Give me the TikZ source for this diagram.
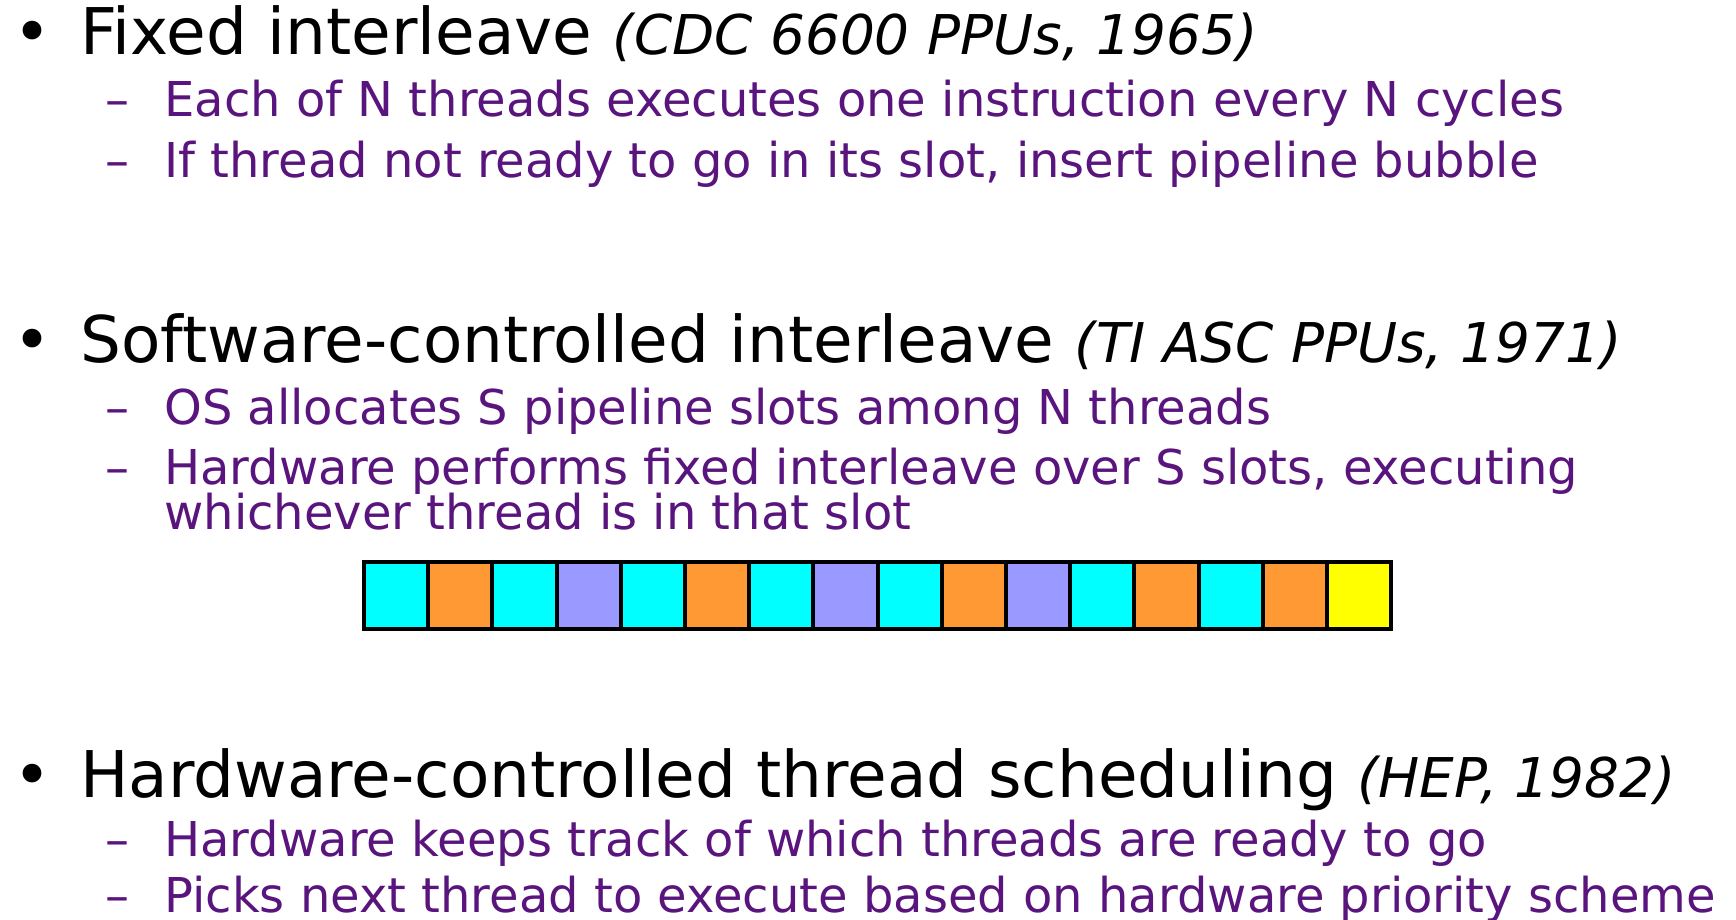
\documentclass[tikz,border=0pt]{standalone}
\usepackage{fontspec}
\setmainfont{DejaVu Sans}
\usetikzlibrary{positioning}
\definecolor{subpurple}{RGB}{90,20,125}
\definecolor{slotcyan}{RGB}{0,255,255}
\definecolor{slotorange}{RGB}{255,153,51}
\definecolor{slotblue}{RGB}{153,153,255}
\definecolor{slotyellow}{RGB}{255,255,0}

\begin{document}
\begin{tikzpicture}[x=0.5pt, y=-0.5pt]
	\tikzstyle{head} = [anchor=base west, inner sep=0pt, font=\fontsize{32.2}{36}\selectfont]
	\tikzstyle{sub} = [anchor=base west, inner sep=0pt, text=subpurple, font=\fontsize{24}{27}\selectfont]
	\tikzstyle{subdash} = [sub, anchor=base west]
	\tikzstyle{slot} = [draw, line width=2pt, inner sep=0pt, outer sep=0pt, minimum width=32.1pt, minimum height=33.5pt]
	\useasboundingbox (0,0) rectangle (1736,920);
	% fixed interleave
	\node [head] (dot1) at (13,55) {•};
	\node [head] (fixed) at (80,55) {Fixed interleave {\fontsize{27.4}{30}\selectfont\itshape (CDC 6600 PPUs, 1965)}};
	\node [subdash] (d11) at (105,117) {–};
	\node [sub] (fixedA) at (164,117) {Each of N threads executes one instruction every N cycles};
	\node [subdash] (d12) at (105,177) {–};
	\node [sub] (fixedB) at (164,177) {If thread not ready to go in its slot, insert pipeline bubble};
	% software-controlled interleave
	\node [head] (dot2) at (13,362) {•};
	\node [head] (soft) at (80,362) {Software-controlled interleave {\fontsize{27.4}{30}\selectfont\itshape (TI ASC PPUs, 1971)}};
	\node [subdash] (d21) at (105,424) {–};
	\node [sub] (softA) at (164,424) {OS allocates S pipeline slots among N threads};
	\node [subdash] (d22) at (105,484) {–};
	\node [sub] (softB) at (164,484) {Hardware performs fixed interleave over S slots, executing};
	\node [sub] (softC) at (164,529) {whichever thread is in that slot};
	% pipeline slots
	\node [slot, fill=slotcyan, anchor=north west] (s1) at (364,562) {};
	\node [slot, fill=slotorange, right=0pt of s1] (s2) {};
	\node [slot, fill=slotcyan, right=0pt of s2] (s3) {};
	\node [slot, fill=slotblue, right=0pt of s3] (s4) {};
	\node [slot, fill=slotcyan, right=0pt of s4] (s5) {};
	\node [slot, fill=slotorange, right=0pt of s5] (s6) {};
	\node [slot, fill=slotcyan, right=0pt of s6] (s7) {};
	\node [slot, fill=slotblue, right=0pt of s7] (s8) {};
	\node [slot, fill=slotcyan, right=0pt of s8] (s9) {};
	\node [slot, fill=slotorange, right=0pt of s9] (s10) {};
	\node [slot, fill=slotblue, right=0pt of s10] (s11) {};
	\node [slot, fill=slotcyan, right=0pt of s11] (s12) {};
	\node [slot, fill=slotorange, right=0pt of s12] (s13) {};
	\node [slot, fill=slotcyan, right=0pt of s13] (s14) {};
	\node [slot, fill=slotorange, right=0pt of s14] (s15) {};
	\node [slot, fill=slotyellow, right=0pt of s15] (s16) {};
	% hardware-controlled thread scheduling
	\node [head] (dot3) at (13,797) {•};
	\node [head] (hard) at (80,797) {Hardware-controlled thread scheduling {\fontsize{27.4}{30}\selectfont\itshape (HEP, 1982)}};
	\node [subdash] (d31) at (105,856) {–};
	\node [sub] (hardA) at (164,856) {Hardware keeps track of which threads are ready to go};
	\node [subdash] (d32) at (105,912) {–};
	\node [sub] (hardB) at (164,912) {Picks next thread to execute based on hardware priority scheme};
\end{tikzpicture}
\end{document}
